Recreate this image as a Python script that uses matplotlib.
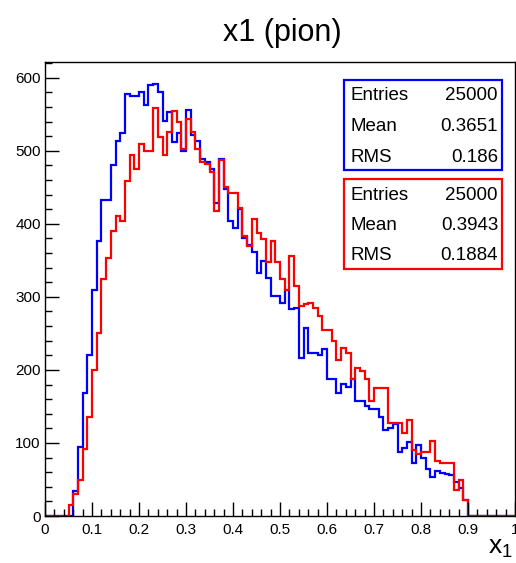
import numpy as np
import matplotlib
matplotlib.use('Agg')
import matplotlib.pyplot as plt
from matplotlib.patches import Rectangle
from matplotlib.ticker import MultipleLocator, FuncFormatter

plt.rcParams['font.family'] = ['Liberation Sans', 'DejaVu Sans']

# ---- data: 100 bins on [0, 1] ----
edges = np.linspace(0, 1, 101)
blue_counts = [0, 0, 0, 0, 0, 0, 34, 95, 168, 221,
               309, 377, 433, 433, 480, 514, 525, 578, 575, 575,
               580, 563, 590, 592, 580, 541, 553, 512, 525, 500,
               556, 521, 514, 489, 484, 475, 429, 489, 448, 404,
               394, 420, 380, 371, 361, 333, 349, 326, 301, 301,
               292, 310, 283, 285, 217, 258, 223, 223, 221, 228,
               188, 188, 168, 181, 177, 188, 157, 157, 150, 146,
               146, 136, 118, 121, 126, 88, 93, 102, 73, 97,
               79, 64, 54, 62, 59, 58, 56, 47, 39, 22,
               0, 0, 0, 0, 0, 0, 0, 0, 0, 0]
red_counts = [0, 0, 0, 0, 0, 15, 30, 49, 92, 135,
              200, 251, 324, 353, 390, 411, 404, 458, 494, 475,
              509, 500, 500, 558, 519, 494, 526, 554, 539, 502,
              543, 526, 502, 484, 482, 471, 418, 488, 451, 442,
              442, 422, 383, 370, 407, 388, 379, 348, 377, 348,
              324, 310, 356, 315, 287, 290, 291, 285, 274, 255,
              255, 240, 214, 230, 223, 187, 203, 198, 187, 157,
              175, 175, 175, 128, 128, 128, 114, 131, 91, 85,
              88, 88, 103, 75, 72, 73, 73, 36, 49, 22,
              0, 0, 0, 0, 0, 0, 0, 0, 0, 0]
stat_names = ['Entries', 'Mean', 'RMS']
blue_stats = ['25000', '0.3651', '0.186']
red_stats = ['25000', '0.3943', '0.1884']

W, H = 516, 563
fig = plt.figure(figsize=(W / 100, H / 100), dpi=100)
ax = fig.add_axes([45 / W, 1 - 516 / H, 470 / W, (516 - 62) / H])

ax.stairs(blue_counts, edges, color='#0000ff', lw=1.6)
ax.stairs(red_counts, edges, color='#ff0000', lw=1.6)

ax.set_xlim(0, 1)
ax.set_ylim(0, 1.05 * max(blue_counts))
ax.xaxis.set_major_locator(MultipleLocator(0.1))
ax.xaxis.set_minor_locator(MultipleLocator(0.02))
ax.yaxis.set_major_locator(MultipleLocator(100))
ax.yaxis.set_minor_locator(MultipleLocator(20))
ax.xaxis.set_major_formatter(FuncFormatter(
    lambda v, p: '0' if abs(v) < 1e-9 else ('1' if abs(v - 1) < 1e-9 else f'{v:.1f}')))
ax.tick_params(which='both', direction='in', top=False, right=False, labelsize=11, width=1)
ax.tick_params(which='major', length=10)
ax.tick_params(which='minor', length=5)
ax.tick_params(axis='y', pad=3)
ax.tick_params(axis='x', pad=5)
for s in ax.spines.values():
    s.set_linewidth(1.0)

fig.text(282 / W, 1 - 33 / H, 'x1 (pion)', ha='center', va='center', fontsize=22)
fig.text(513 / W, 1 - 548 / H, r'$\mathregular{x_1}$', ha='right', va='center', fontsize=19)

# ---- stat boxes ----
def stat_box(top, color, vals):
    x0, x1, y0, y1 = 344, 502, top, top + 90
    fig.patches.append(Rectangle((x0 / W, 1 - y1 / H), (x1 - x0) / W, (y1 - y0) / H,
                                 transform=fig.transFigure, facecolor='white',
                                 edgecolor=color, lw=1.6, zorder=5))
    for k, (n, v) in enumerate(zip(stat_names, vals)):
        yy = top + 16 + 30.5 * k
        fig.text(351 / W, 1 - yy / H, n, ha='left', va='center', fontsize=13.5, zorder=6)
        fig.text(498 / W, 1 - yy / H, v, ha='right', va='center', fontsize=13.5, zorder=6)

stat_box(80, '#0000ff', blue_stats)
stat_box(179, '#ff0000', red_stats)

fig.savefig('out.png', dpi=100)
